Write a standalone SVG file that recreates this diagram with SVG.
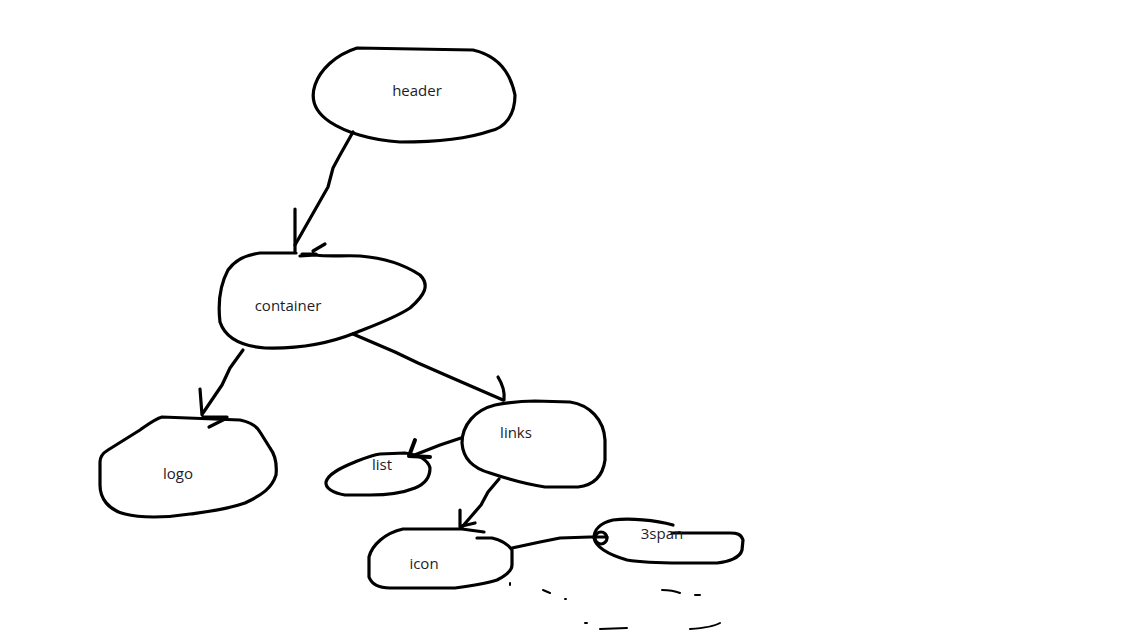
<svg xmlns="http://www.w3.org/2000/svg" width="1142" height="630" viewBox="0 0 1142 630">
<style>
.s{fill:none;stroke:#000;stroke-width:3.2;stroke-linecap:round;stroke-linejoin:round}
.t{font-family:"Open Sans","Liberation Sans",sans-serif;font-size:15px;fill:#1c1c2a;text-anchor:middle}
.f{fill:none;stroke:#000;stroke-width:2;stroke-linecap:round}
</style>
<rect width="1142" height="630" fill="#fff"/>
<g id="header">
<path class="s" d="M357,48 L473,50 C495,55 510,70 515,95 C515,115 505,128 490,131 C470,138 440,142 400,142 C370,140 345,132 330,122 C315,112 310,100 315,85 C320,70 335,55 357,48 Z"/>
<text class="t" x="417" y="96">header</text>
</g>
<g id="container">
<path class="s" d="M296,253 L260,253 C245,255 235,260 228,270 C220,285 218,305 220,322 C225,337 240,346 265,348 C300,349 330,343 355,333 C375,325 395,318 410,308 C425,295 430,285 420,275 C405,265 385,258 360,256 C345,255 330,257 316,255 L300,256"/>
<text class="t" x="288" y="311">container</text>
</g>
<g id="logo">
<path class="s" d="M162,417 L240,420 C250,422 256,425 260,432 L270,448 C276,456 277,465 276,475 C272,488 262,495 245,503 C225,510 205,512 190,514 C165,518 140,518 125,514 C108,510 100,498 100,485 L100,462 C100,457 103,453 108,450 L140,430 C150,423 155,419 162,417 Z"/>
<text class="t" x="178" y="479">logo</text>
</g>
<g id="links">
<path class="s" d="M495,405 C510,402 520,401 535,401 L570,402 C590,405 604,420 605,440 L605,460 C603,475 595,485 578,487 L545,487 C525,484 505,478 490,473 C472,468 463,458 462,443 C462,425 475,410 495,405 Z"/>
<text class="t" x="516" y="438">links</text>
</g>
<g id="list">
<path class="s" d="M380,454 L405,453 C420,455 428,460 430,468 C430,478 425,484 415,488 C400,494 385,495 370,495 L345,495 C333,493 325,488 326,482 C328,474 340,468 355,462 C365,458 372,455 380,454 Z"/>
<text class="t" x="382" y="470">list</text>
</g>
<g id="icon">
<path class="s" d="M484,532 L462,529 L403,529 C385,533 372,545 369,557 L369,577 C372,585 380,588 390,588 L455,588 C470,586 485,584 497,580 C507,575 512,570 512,565 L512,550 C508,544 500,540 492,538 L477,538"/>
<text class="t" x="424" y="569">icon</text>
</g>
<g id="span3">
<path class="s" d="M673,525 C655,520 630,518 613,520 C600,523 594,530 594,538 C596,548 610,555 627,560 C645,563 660,563 680,563 L717,563 C728,562 740,558 742,550 L743,540 C741,534 737,533 730,533 L672,533"/>
<text class="t" x="662" y="539">3span</text>
</g>
<g id="connectors">
<path class="s" d="M353,132 L340,155 L333,168 L328,187 L295,245"/>
<path class="s" d="M295,209 L295,251 M302,254 L316,254 M313,251 L325,244"/>
<path class="s" d="M353,334 L395,352 L418,363 L450,377 L503,400"/>
<path class="s" d="M498,377 C503,385 505,392 504,400"/>
<path class="s" d="M243,350 L230,368 L222,385 L203,413"/>
<path class="s" d="M200,389 L202,415 M203,417 L227,417 M209,427 L227,418"/>
<path class="s" d="M461,438 L440,445 L412,456"/>
<path class="s" d="M415,440 L409,456 M409,456 L430,457" style="stroke-width:4"/>
<path class="s" d="M499,479 L488,492 L481,505 L462,527"/>
<path class="s" d="M460,510 L460,527 M462,526 L475,523"/>
<path class="s" d="M512,548 L540,542 L560,538 L590,537 L607,537"/>
<circle class="s" cx="601" cy="538" r="6"/>
<path class="f" d="M510,583 L510,585 M543,590 L550,593 M565,599 L566,599 M662,590 C670,590 675,591 680,593 M695,595 L700,595 M585,623 L587,623 M600,629 L627,628 M690,629 C705,628 715,626 720,623"/>
</g>
</svg>
